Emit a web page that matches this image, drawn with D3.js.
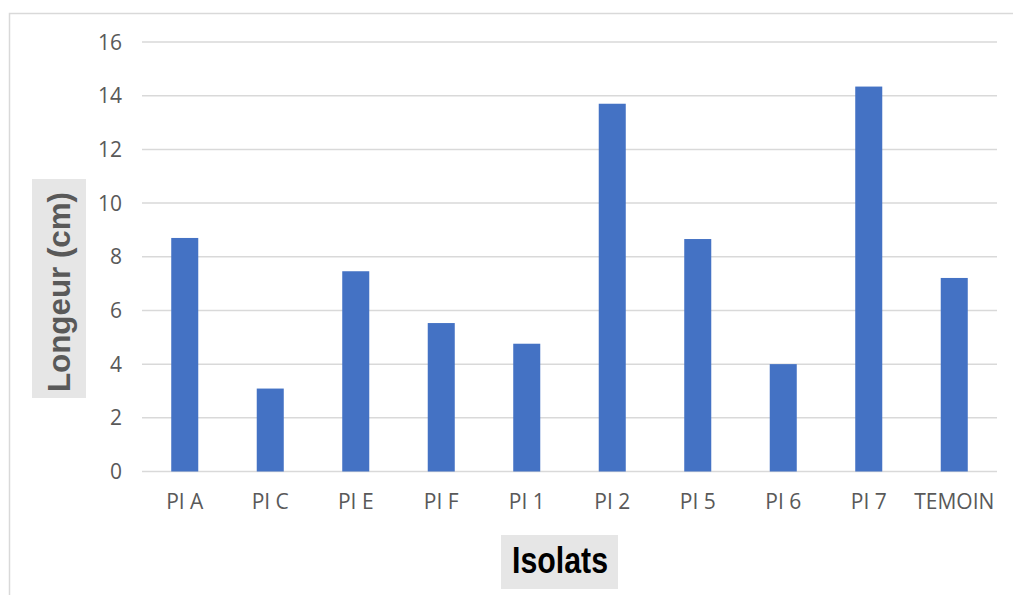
<!DOCTYPE html>
<html lang="fr">
	<head>
		<meta charset="utf-8">
		<title>Longeur par isolat</title>
		<script src="https://d3js.org/d3.v7.min.js"></script>
		<style type="text/css">
			body { margin: 0; background: #fff; }
			svg { display: block; }
			.grid line { stroke: #d9d9d9; stroke-width: 1.5px; }
			.tick-label { font-family: "Open Sans", sans-serif; font-size: 21px; fill: #595959; }
		</style>
	</head>
	<body>
		<script type="text/javascript">

			// categories and values
			var isolats = ["PI A", "PI C", "PI E", "PI F", "PI 1", "PI 2", "PI 5", "PI 6", "PI 7", "TEMOIN"];
			var longeurs = [8.7, 3.09, 7.46, 5.53, 4.76, 13.7, 8.66, 4.0, 14.34, 7.21];
			var yTicks = [0, 2, 4, 6, 8, 10, 12, 14, 16];

			var w = 1013;
			var h = 595;

			var svg = d3.select("body")
						.append("svg")
						.attr("width", w)
						.attr("height", h);

			// chart frame
			svg.append("rect")
				.attr("x", 9.5)
				.attr("y", 13.5)
				.attr("width", w)
				.attr("height", h)
				.attr("fill", "#fff")
				.attr("stroke", "#d9d9d9")
				.attr("stroke-width", 1.5);

			var x = d3.scaleBand()
						.domain(isolats)
						.range([142, 997])
						.paddingInner(0.684)
						.paddingOuter(0.342);

			var y = d3.scaleLinear()
						.domain([0, 16])
						.range([471.5, 42]);

			//gridlines
			svg.append("g")
				.attr("class", "grid")
				.selectAll("line")
				.data(yTicks)
				.enter()
				.append("line")
				.attr("x1", 142)
				.attr("x2", 997)
				.attr("y1", function(d) { return y(d); })
				.attr("y2", function(d) { return y(d); });

			//y labels
			svg.append("g")
				.selectAll("text")
				.data(yTicks)
				.enter()
				.append("text")
				.attr("class", "tick-label")
				.attr("x", 122)
				.attr("y", function(d) { return y(d); })
				.attr("dy", "0.36em")
				.attr("text-anchor", "end")
				.text(function(d) { return d; });

			//bars
			svg.append("g")
				.selectAll("rect")
				.data(longeurs)
				.enter()
				.append("rect")
				.attr("x", function(d, i) { return x(isolats[i]); })
				.attr("width", x.bandwidth())
				.attr("y", function(d) { return y(d); })
				.attr("height", function(d) { return y(0) - y(d); })
				.attr("fill", "#4472c4");

			//x labels
			svg.append("g")
				.selectAll("text")
				.data(isolats)
				.enter()
				.append("text")
				.attr("class", "tick-label")
				.attr("x", function(d) { return x(d) + x.bandwidth() / 2; })
				.attr("y", 509)
				.attr("text-anchor", "middle")
				.text(function(d) { return d; });

			// y axis title
			svg.append("rect")
				.attr("x", 32)
				.attr("y", 179)
				.attr("width", 54)
				.attr("height", 219)
				.attr("fill", "#e6e6e6");

			svg.append("text")
				.attr("transform", "translate(70,392)rotate(-90)")
				.attr("font-family", "'Liberation Sans', Arial, sans-serif")
				.attr("font-weight", "bold")
				.attr("font-size", 31)
				.attr("fill", "#595959")
				.attr("textLength", 200)
				.attr("lengthAdjust", "spacingAndGlyphs")
				.text("Longeur  (cm)");

			// x axis title
			svg.append("rect")
				.attr("x", 501)
				.attr("y", 535)
				.attr("width", 117)
				.attr("height", 54)
				.attr("fill", "#e6e6e6");

			svg.append("text")
				.attr("x", 512)
				.attr("y", 573)
				.attr("font-family", "'Liberation Sans', Arial, sans-serif")
				.attr("font-weight", "bold")
				.attr("font-size", 36)
				.attr("fill", "#000")
				.attr("textLength", 96)
				.attr("lengthAdjust", "spacingAndGlyphs")
				.text("Isolats");

		</script>
	</body>
</html>
